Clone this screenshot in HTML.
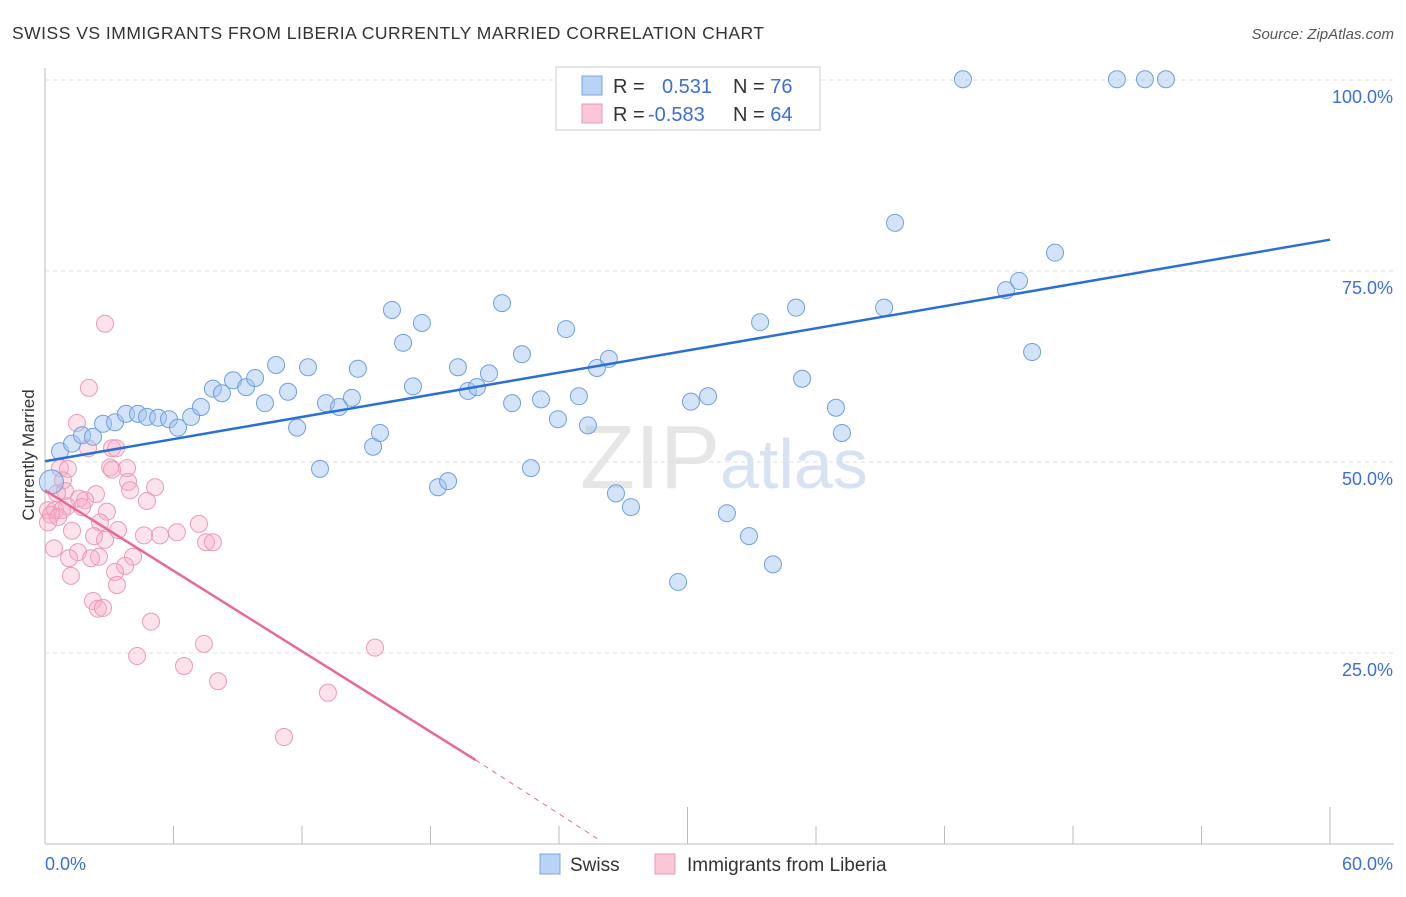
<!DOCTYPE html>
<html><head><meta charset="utf-8"><style>
body{margin:0;background:#fff;font-family:"Liberation Sans",sans-serif;}
svg text{font-family:"Liberation Sans",sans-serif;}
</style></head><body>
<svg id="c" width="1406" height="892">
<text x="12" y="39" font-size="17.5" fill="#333" textLength="752">SWISS VS IMMIGRANTS FROM LIBERIA CURRENTLY MARRIED CORRELATION CHART</text>
<text x="1394" y="39" font-size="15" fill="#555" font-style="italic" text-anchor="end">Source: ZipAtlas.com</text>
<text x="720" y="488" font-size="90" fill="#e6e6e6" text-anchor="end" font-family="Liberation Serif">ZIP</text>
<text x="720" y="488" font-size="70" fill="#d7e3f3">atlas</text>
<text transform="translate(34,455) rotate(-90)" font-size="17" fill="#333" text-anchor="middle">Currently Married</text>
<g id="grid"></g><g id="marks"></g>
<g>
<rect x="556" y="67" width="264" height="63" fill="#fff" stroke="#ccc"/>
<rect x="582" y="76" width="20" height="19" fill="#b8d3f5" stroke="#7aa5e0"/>
<rect x="582" y="104" width="20" height="19" fill="#fbc6d6" stroke="#e99ab5"/>
<text x="613" y="93" font-size="20" fill="#333">R = <tspan fill="#3a6fd8" x="662">0.531</tspan><tspan x="733" fill="#333">N = </tspan><tspan fill="#3a6fd8">76</tspan></text>
<text x="613" y="121" font-size="20" fill="#333">R = <tspan fill="#3a6fd8" x="648">-0.583</tspan><tspan x="733" fill="#333">N = </tspan><tspan fill="#3a6fd8">64</tspan></text>
</g>
<g>
<rect x="540" y="854" width="20" height="20" fill="#b8d3f5" stroke="#7aa5e0"/>
<text x="570" y="871" font-size="19" fill="#333">Swiss</text>
<rect x="655" y="854" width="20" height="20" fill="#fbc6d6" stroke="#e99ab5"/>
<text x="687" y="871" font-size="19" fill="#333">Immigrants from Liberia</text>
</g>
</svg>
<script>
const xTicks=[0,60];
const yTicks=[25,50,75,100];
const swissPx=[[60,451],[72,444],[82,435],[93,437],[103,424],[115,422],[126,414],[138,414],[147,417],[158,418],[169,419],[178,428],[191,417],[201,407],[213,389],[222,393],[233,380],[246,387],[255,378],[265,403],[276,365],[288,392],[297,428],[308,367],[320,469],[326,403],[339,407],[352,398],[358,369],[373,447],[380,433],[392,310],[403,343],[413,386],[422,323],[438,487],[448,481],[458,367],[468,391],[477,387],[489,373],[502,303],[512,403],[522,354],[531,468],[541,399],[558,419],[566,329],[579,396],[588,425],[597,368],[609,359],[616,493],[631,507],[678,582],[691,402],[708,396],[727,513],[749,536],[760,322],[773,564],[796,308],[802,379],[836,408],[842,433],[884,308],[895,223],[963,79],[1006,290],[1019,281],[1032,352],[1055,253],[1117,79],[1145,79],[1166,79]];
const liberiaPx=[[105,324],[89,388],[77,423],[88,448],[112,448],[60,468],[68,469],[127,468],[110,467],[63,480],[65,491],[155,487],[128,482],[57,493],[96,494],[147,501],[79,499],[85,500],[67,506],[48,510],[55,510],[62,510],[51,515],[82,507],[107,512],[58,517],[48,522],[100,522],[118,530],[199,524],[72,531],[94,536],[177,532],[160,535],[144,535],[105,540],[206,542],[213,542],[54,548],[78,552],[69,558],[99,557],[91,558],[133,557],[125,566],[115,572],[71,576],[117,585],[93,601],[98,609],[103,608],[151,622],[204,644],[137,656],[184,666],[218,681],[328,693],[284,737],[375,648],[112,470],[116,448],[130,490]];
const swissX=swissPx.map(p=>+((p[0]-45)*60/1285).toFixed(2));
const swissY=swissPx.map(p=>+((844-p[1])*100/764).toFixed(1));
const liberiaX=liberiaPx.map(p=>+((p[0]-45)*60/1285).toFixed(2));
const liberiaY=liberiaPx.map(p=>+((844-p[1])*100/764).toFixed(1));
const swissTrend=[[0,50.1],[60,79.1]];
const liberiaTrend=[[0,46.3],[20.1,11.0]];
const liberiaTrendExt=[[20.1,11.0],[25.9,0.5]];
const NS='http://www.w3.org/2000/svg';
const X=v=>45+v/60*1285, Y=v=>844-v/100*764;
function mk(t,a,p){const e=document.createElementNS(NS,t);for(const k in a)e.setAttribute(k,a[k]);p.appendChild(e);return e;}
const g=document.getElementById('grid'),m=document.getElementById('marks');
mk('line',{x1:45,y1:68,x2:45,y2:844,stroke:'#bbb'},g);
mk('line',{x1:45,y1:844,x2:1394,y2:844,stroke:'#bbb'},g);
for(let i=0;i<=10;i++){const x=45+i*128.5;const l=mk('line',{x1:x,y1:(i==5||i==10)?807:826,x2:x,y2:844,stroke:'#bbb'},g);

}
yTicks.forEach(v=>{const l=mk('line',{x1:45,y1:Y(v),x2:1394,y2:Y(v),stroke:'#ddd','stroke-dasharray':'4 4'},g);


const t=mk('text',{x:1393,y:Y(v)+23,'font-size':18,fill:'#3a6fd8','text-anchor':'end'},g);t.textContent=v.toFixed(1)+'%';

});
xTicks.forEach((v,i)=>{const t=mk('text',{x:i?1393:45,y:870,'font-size':18,fill:'#3a6fd8','text-anchor':i?'end':'start'},g);t.textContent=v.toFixed(1)+'%';

});
liberiaX.forEach((x,i)=>{const c=mk('circle',{cx:X(x),cy:Y(liberiaY[i]),r:8.5,fill:'rgba(246,172,198,0.35)',stroke:'#eb9ab6','stroke-width':1},m);

});
swissX.forEach((x,i)=>{const c=mk('circle',{cx:X(x),cy:Y(swissY[i]),r:8.5,fill:'rgba(160,196,240,0.45)',stroke:'#6f9fe0','stroke-width':1},m);

});
const big=mk('circle',{cx:X(0.3),cy:Y(47.4),r:12,fill:'rgba(160,196,240,0.45)',stroke:'#6f9fe0'},m);


function line(d,col,name,dash){const l=mk('line',{x1:X(d[0][0]),y1:Y(d[0][1]),x2:X(d[1][0]),y2:Y(d[1][1]),stroke:col,'stroke-width':dash?1:2.5},m);if(dash)l.setAttribute('stroke-dasharray','5 5');

}
line(swissTrend,'#2a6fd6','swiss-trend-line');
line(liberiaTrend,'#e8689a','liberia-trend-line');
line(liberiaTrendExt,'#e8689a','liberia-trend-extension',true);
</script>
</body></html>
